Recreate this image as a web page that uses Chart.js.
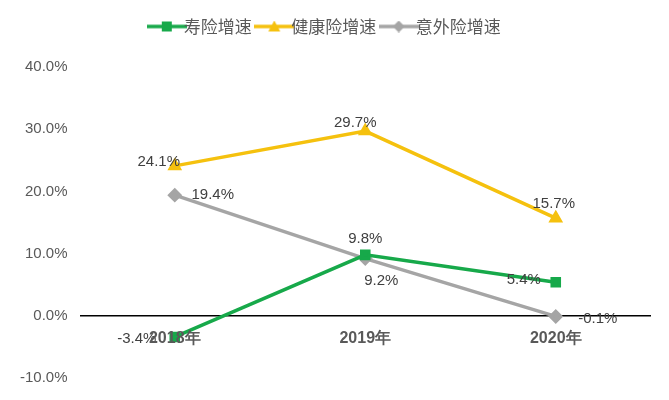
<!DOCTYPE html>
<html>
<head>
<meta charset="utf-8">
<script src="https://cdn.jsdelivr.net/npm/chart.js@4"></script>
<style>
  body { margin: 0; background: #fff; }
  #wrap { width: 669px; height: 400px; }
</style>
</head>
<body>
<div id="wrap"><canvas id="chart"></canvas></div>
<script>
const categories = ["2018年", "2019年", "2020年"];
const lifeGrowth = [-3.4, 9.8, 5.4];
const healthGrowth = [24.1, 29.7, 15.7];
const accidentGrowth = [19.4, 9.2, -0.1];
const yTicks = [-10, 0, 10, 20, 30, 40];

// 數據標籤位置 [dx, dy]
const labelPos = [
    [[-38, 2], [0, -16], [-32, -2]],
    [[-16, -4], [-10, -8], [-2, -14]],
    [[38, 0], [16, 22], [42, 2]],
];

const dataLabels = {
    id: "dataLabels",
    afterDatasetsDraw(chart) {
        const c = chart.ctx;
        c.save();
        c.font = "15px 'Liberation Sans', Arial";
        c.fillStyle = "#404040";
        c.textBaseline = "middle";
        c.textAlign = "center";
        chart.data.datasets.forEach((ds, i) => {
            chart.getDatasetMeta(i).data.forEach((pt, j) => {
                const [dx, dy] = labelPos[i][j];
                c.fillText(ds.data[j].toFixed(1) + "%", pt.x + dx, pt.y + dy);
            });
        });
        // 類別標籤畫在零線下
        const y0 = chart.scales.y.getPixelForValue(0);
        c.font = "bold 16px 'Liberation Sans', Arial";
        c.fillStyle = "#595959";
        categories.forEach((cat, j) => {
            c.fillText(cat, chart.scales.x.getPixelForValue(j), y0 + 23);
        });
        c.restore();
    },
};

// 圖例圖示：線加標記
function legendIcon(color, shape) {
    const cv = document.createElement("canvas");
    cv.width = 40; cv.height = 12;
    const g = cv.getContext("2d");
    g.strokeStyle = color; g.fillStyle = color; g.lineWidth = 3.5;
    g.beginPath(); g.moveTo(0, 6); g.lineTo(40, 6); g.stroke();
    g.beginPath();
    if (shape === "rect") g.rect(15, 1, 10, 10);
    else if (shape === "triangle") { g.moveTo(20, 0); g.lineTo(26, 11); g.lineTo(14, 11); }
    else { g.moveTo(20, 0); g.lineTo(26, 6); g.lineTo(20, 12); g.lineTo(14, 6); }
    g.fill();
    return cv;
}

const legendPad = {
    id: "legendPad",
    beforeInit(chart) {
        const fit = chart.legend.fit;
        chart.legend.fit = function () { fit.bind(chart.legend)(); this.height += 22; };
    },
};

const ds = (label, data, color, style) => ({
    label, data,
    borderColor: color, backgroundColor: color,
    borderWidth: 3.5, pointStyle: style, pointRadius: 5, pointHoverRadius: 5,
    tension: 0,
});

const colors = ["#17a94a", "#f5c10e", "#a5a5a5"];
const shapes = ["rect", "triangle", "rectRot"];

new Chart(document.getElementById("chart"), {
    type: "line",
    data: {
        labels: categories,
        datasets: [
            ds("寿险增速", lifeGrowth, colors[0], shapes[0]),
            ds("健康险增速", healthGrowth, colors[1], shapes[1]),
            ds("意外险增速", accidentGrowth, colors[2], shapes[2]),
        ],
    },
    options: {
        responsive: true,
        maintainAspectRatio: false,
        animation: false,
        layout: { padding: { left: 8, right: 18, bottom: 14, top: 4 } },
        plugins: {
            tooltip: { enabled: false },
            legend: {
                position: "top",
                labels: {
                    usePointStyle: true,
                    color: "#595959",
                    font: { size: 17, family: "'Noto Sans CJK SC'" },
                    padding: 14,
                    generateLabels: (chart) => chart.data.datasets.map((d, i) => ({
                        text: d.label,
                        pointStyle: legendIcon(colors[i], shapes[i]),
                        fontColor: "#595959",
                        datasetIndex: i,
                    })),
                },
            },
        },
        scales: {
            x: {
                offset: true,
                grid: { display: false },
                border: { display: false },
                ticks: { display: false },
            },
            y: {
                min: -10, max: 40,
                afterBuildTicks: (s) => { s.ticks = yTicks.map((v) => ({ value: v })); },
                grid: {
                    drawTicks: false,
                    color: (ctx) => (ctx.tick && ctx.tick.value === 0 ? "#000" : "transparent"),
                    lineWidth: 1.5,
                },
                border: { display: false },
                ticks: {
                    padding: 12,
                    color: "#595959",
                    font: { size: 15, family: "'Liberation Sans', Arial" },
                    callback: (v) => v.toFixed(1) + "%",
                },
            },
        },
    },
    plugins: [dataLabels, legendPad],
});
</script>
</body>
</html>
